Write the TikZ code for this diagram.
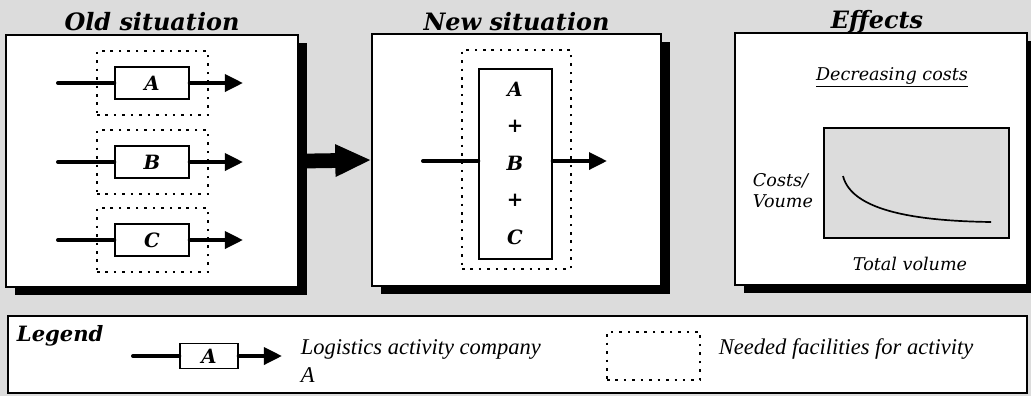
\documentclass[tikz,border=0pt]{standalone}
\usepackage{fontspec}
\setmainfont{DejaVu Serif}
\newfontfamily\legfont{Liberation Serif}
\usetikzlibrary{positioning,arrows.meta,fit,shadows}
\definecolor{paper}{HTML}{DCDCDC}
\definecolor{inkgrey}{HTML}{1A1A1A}

\begin{document}
\begin{tikzpicture}[x=0.025cm, y=-0.025cm,
  every node/.append style={font=\bfseries\itshape\fontsize{14}{16}\selectfont},
  panel/.style={draw, line width=1pt, fill=white, inner sep=0pt,
    drop shadow={shadow xshift=0.23cm, shadow yshift=-0.2cm, fill=black, opacity=1}},
  facil/.style={draw, line width=1.6pt, dash pattern=on 1.8pt off 4.2pt, inner sep=0pt},
  act/.style={draw, line width=1pt, fill=white, inner sep=0pt},
  chart/.style={draw, line width=0.8pt, fill=paper, inner sep=0pt},
  flow/.style={line width=2.8pt, line cap=round, -{Triangle[length=4.5mm, width=4.2mm]}},
  bare/.style={line width=2.8pt, line cap=round},
  bigflow/.style={line width=10.5pt, -{Triangle[length=9mm, width=7.5mm]}},
  title/.style={font=\bfseries\itshape\fontsize{17}{19}\selectfont, anchor=base},
  note/.style={font=\itshape\fontsize{12.5}{15}\selectfont},
  legtext/.style={font=\legfont\itshape\fontsize{16}{18}\selectfont, anchor=west}
]
\fill[paper] (0,0) rectangle (1031,396);
\useasboundingbox (0,0) rectangle (1031,396);

\node[panel, fit={(6,35) (298,287)}] (old) {};
\node[panel, fit={(372,34) (661,286)}] (new) {};
\node[panel, fit={(735,33) (1027,285)}] (eff) {};
\node[title] (oldt) at ([yshift=3pt]old.north) {Old situation};
\node[title] (newt) at ([yshift=2pt]new.north) {New situation};
\node[title] (efft) at ([xshift=-0.1cm, yshift=3pt]eff.north) {Effects};

\foreach \r/\lab/\y in {a/A/83, b/B/162, c/C/240} {
  \node[facil, fit={(97,\y-32) (208,\y+32)}] (fac\r) {};
  \node[act, minimum width=1.85cm, minimum height=0.8cm] (act\r) at (152,\y) {\lab};
  \coordinate (in\r) at (58,\y);
  \coordinate (out\r) at (243,\y);
  \draw[bare] (in\r) -- (act\r);
  \draw[flow] (act\r) -- (out\r);
}

\draw[bigflow] ([xshift=0.2cm]old.east) -- (new.west);

\node[facil, fit={(462,50) (571,269)}] (facabc) {};
\node[act, fit={(479,69) (552,259)}] (actabc) {};
\foreach \n/\t/\y in {1/A/89, 2/+/126, 3/B/163, 4/+/200, 5/C/237}
  \node (m\n) at (515,\y) {\t};
\coordinate (inabc) at (423,161);
\coordinate (outabc) at (607,161);
\draw[bare] (inabc) -- (inabc -| actabc.west);
\draw[flow] (outabc -| actabc.east) -- (outabc);

\node[note] (dec) at (892,77) {\underline{Decreasing costs}};
\node[chart, fit={(824,128) (1009,238)}] (chart) {};
\draw[line width=1.2pt] (843,176) .. controls (852,212) and (920,221) .. (991,222);
\node[note, align=left, anchor=east] (yax) at (818,191) {Costs/\\Voume};
\node[note] (xax) at (910,264) {Total volume};

\node[act, fit={(8,316) (1027,393)}] (legend) {};
\node[font=\bfseries\itshape\fontsize{15}{17}\selectfont, anchor=west] (legt) at (12,336) {Legend};
\node[act, minimum width=1.45cm, minimum height=0.62cm] (actleg) at (209,356) {A};
\coordinate (inleg) at (133,356);
\coordinate (outleg) at (282,356);
\draw[bare] (inleg) -- (actleg);
\draw[flow] (actleg) -- (outleg);
\node[legtext] (legact) at (296,349) {Logistics activity company};
\node[legtext] (legacta) at (296,375) {A};
\node[facil, fit={(607,332) (700,380)}] (facleg) {};
\node[legtext] (legfac) at (714,349) {Needed facilities for activity};
\end{tikzpicture}
\end{document}
